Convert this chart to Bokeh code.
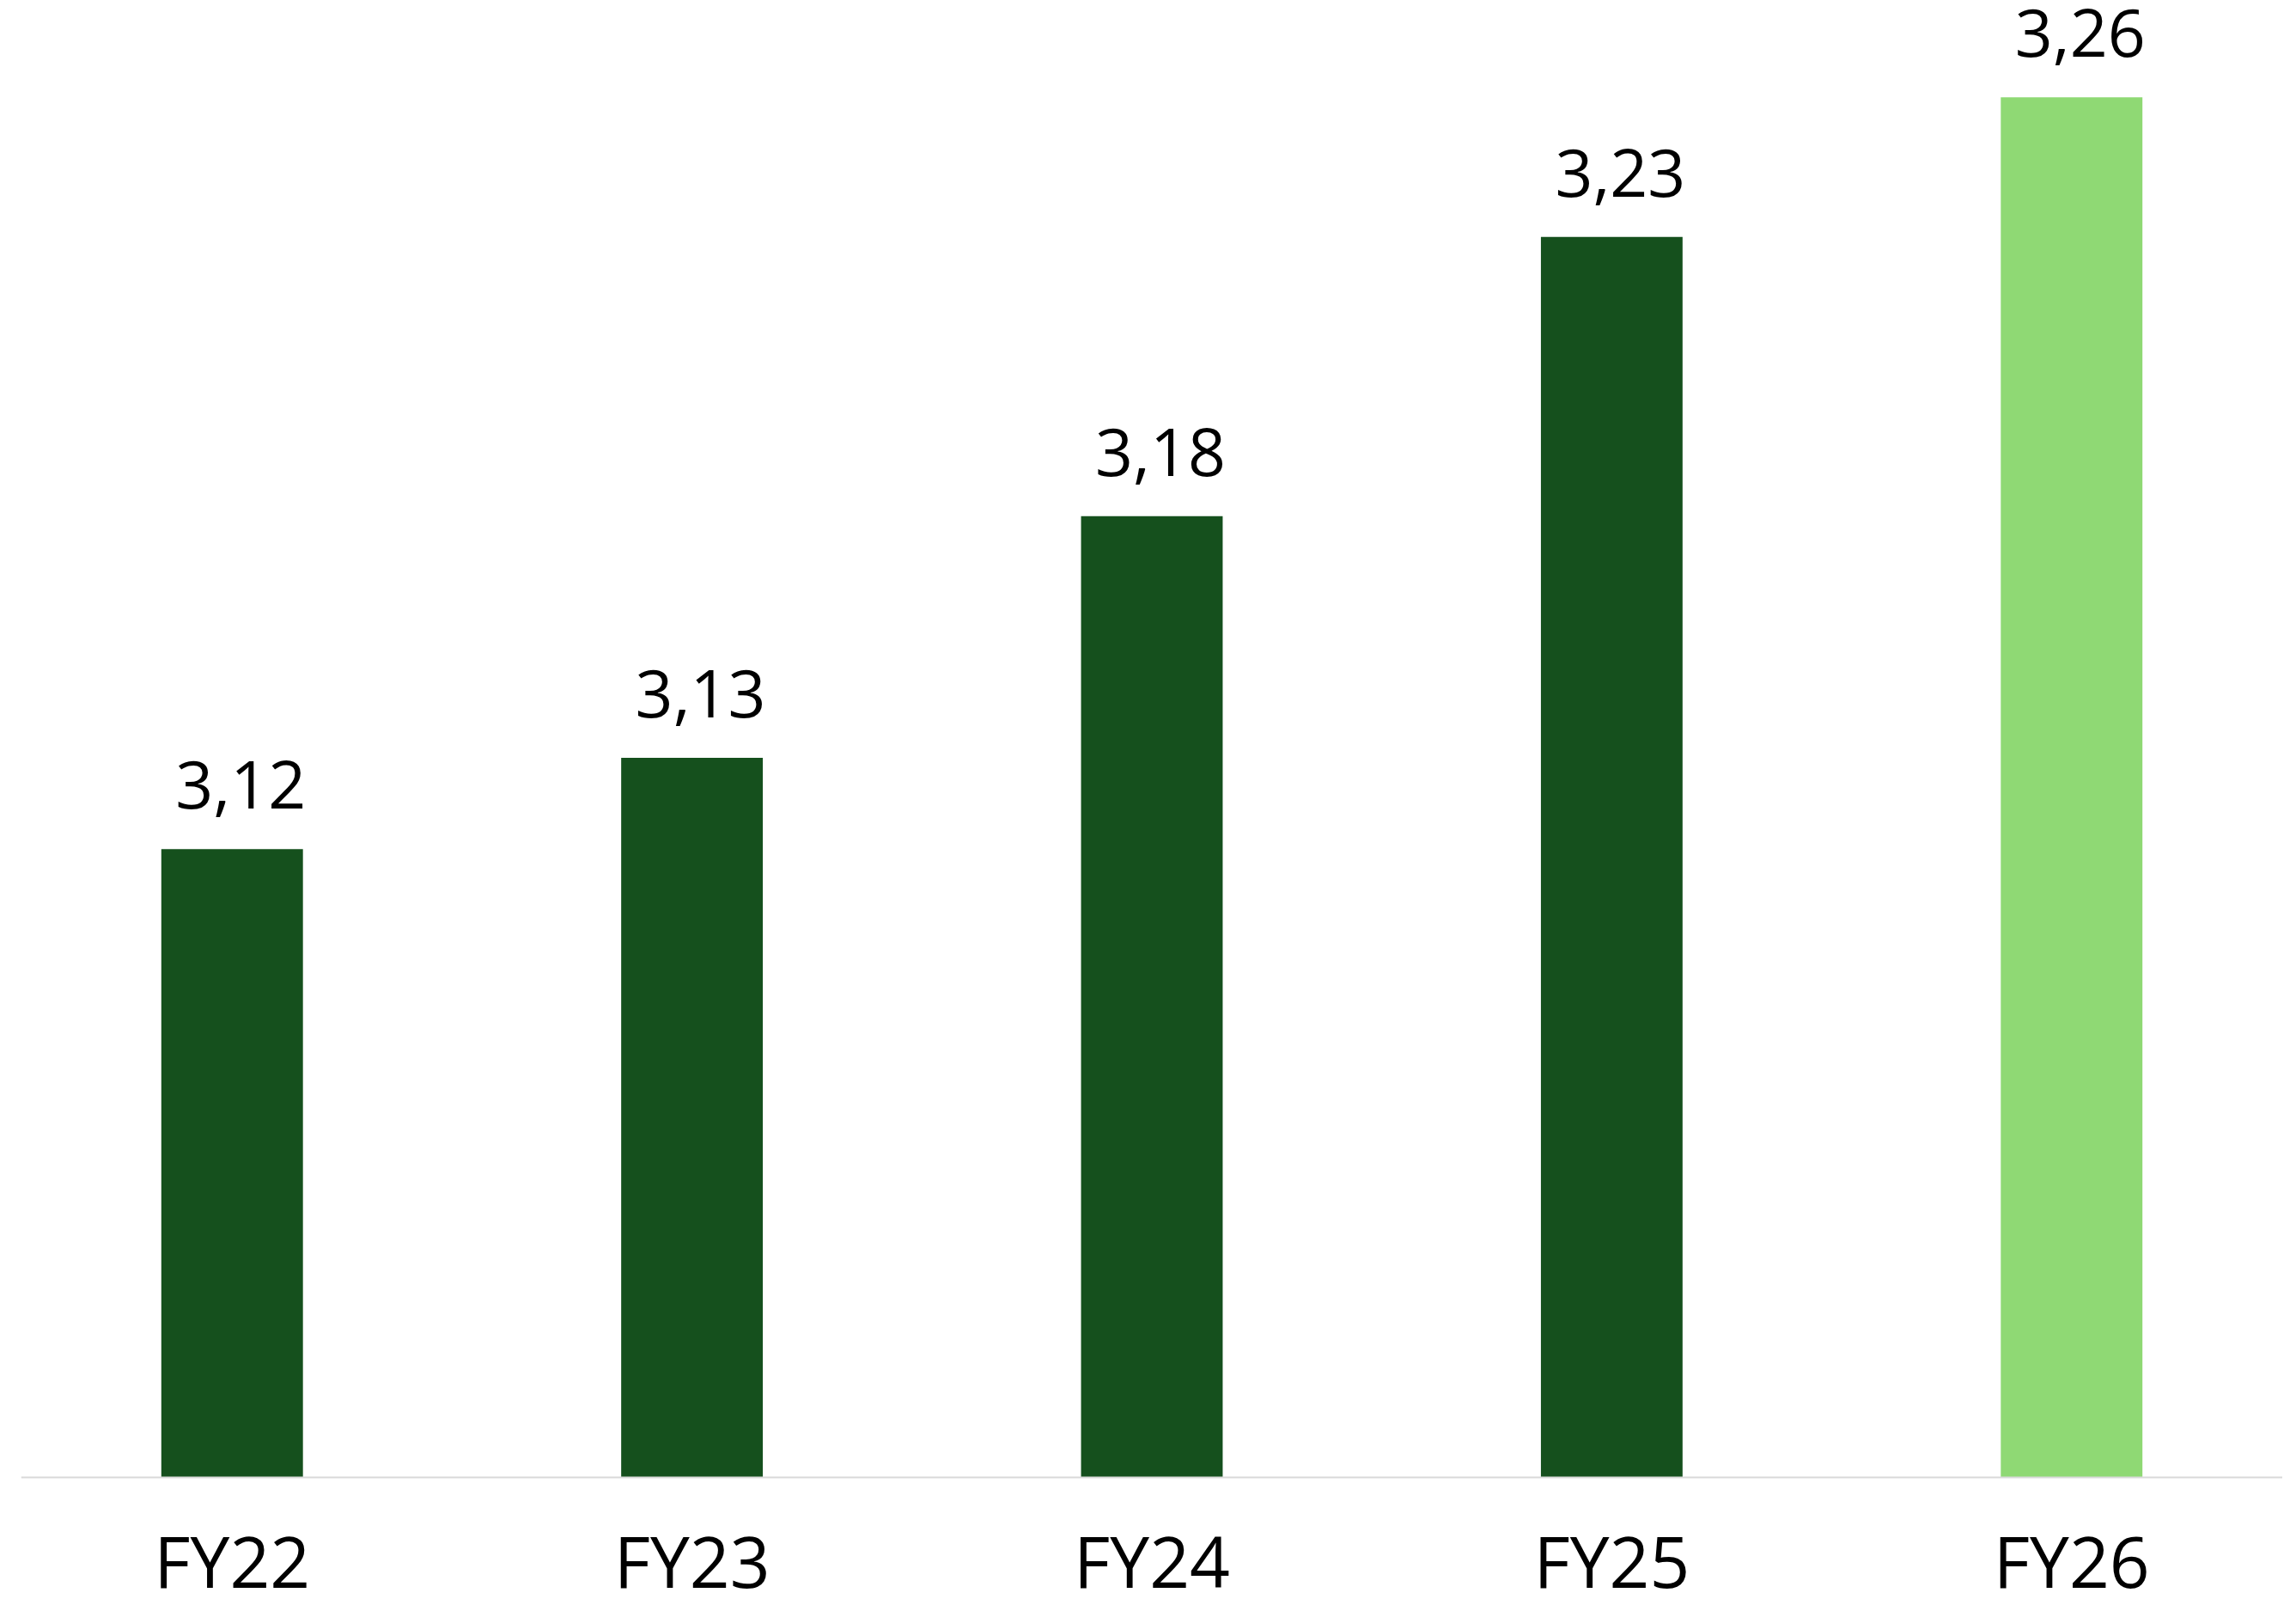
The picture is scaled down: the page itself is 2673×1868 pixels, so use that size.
from bokeh.plotting import figure
from bokeh.models import ColumnDataSource, FactorRange, Range1d
from bokeh.core.properties import value
from bokeh.embed import file_html
from bokeh.resources import INLINE

# Data
categories = ["FY22", "FY23", "FY24", "FY25", "FY26"]
values = [3.117, 3.134, 3.179, 3.231, 3.257]
colors = ["#15501D", "#15501D", "#15501D", "#15501D", "#8FD974"]
labels = [f"{v:.2f}".replace(".", ",") for v in values]
baseline = 3.0

FONT = "Open Sans"

source = ColumnDataSource(data=dict(cat=categories, val=values, color=colors, label=labels))

p = figure(
    x_range=FactorRange(factors=categories, range_padding=-0.0164),
    y_range=Range1d(2.97872, 3.27504),
    width=2657, height=1852,
    output_backend="svg", toolbar_location=None,
    min_border_left=24, min_border_right=0, min_border_top=0, min_border_bottom=0,
)

p.vbar(x="cat", top="val", bottom=baseline, width=0.308, color="color", line_color=None, source=source)

p.text(x="cat", y="val", text="label", source=source,
       text_align="center", text_baseline="alphabetic",
       x_offset=10, y_offset=-75,
       text_font=value(FONT), text_font_size="77px", text_color="#000000")

p.yaxis.visible = False
p.xgrid.visible = False
p.ygrid.visible = False
p.outline_line_color = None
p.background_fill_color = "white"
p.border_fill_color = "white"

xa = p.xaxis[0]
xa.fixed_location = baseline
xa.axis_line_color = "#D9D9D9"
xa.axis_line_width = 2
xa.major_tick_line_color = None
xa.minor_tick_line_color = None
xa.major_tick_out = 0
xa.major_tick_in = 0
xa.major_label_standoff = 40
xa.major_label_text_font = FONT
xa.major_label_text_font_size = "82px"
xa.major_label_text_color = "#000000"

open("out.html", "w").write(file_html(p, INLINE))
